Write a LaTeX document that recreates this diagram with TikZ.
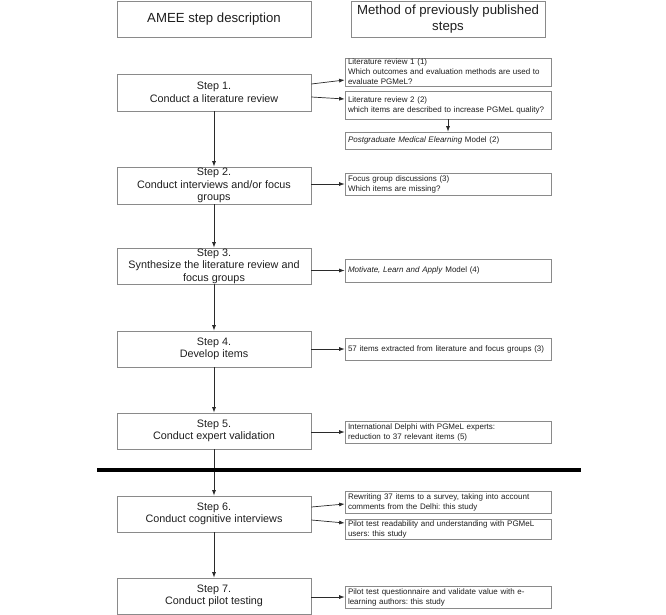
\documentclass[tikz,border=0pt]{standalone}
\usepackage{fontspec}
\setmainfont{Liberation Sans}
\usetikzlibrary{arrows.meta}
\frenchspacing
\definecolor{boxgray}{HTML}{8A8A8A}
\definecolor{linegray}{HTML}{2A2A2A}
\definecolor{txt}{HTML}{1E1E1E}
\tikzset{
  hdr/.style={draw=boxgray, line width=0.8pt, minimum width=194pt, minimum height=36pt, inner sep=0pt, align=center, text=txt, font=\fontsize{13.2}{16}\selectfont},
  stepbox/.style={draw=boxgray, line width=0.8pt, minimum width=194pt, minimum height=37pt, inner sep=0pt, align=center, text=txt, font=\fontsize{10.8}{12.5}\selectfont},
  infobox/.style={draw=boxgray, line width=0.7pt, minimum width=206pt, inner xsep=3pt, inner ysep=0pt, text width=200pt, align=left, text=txt, font=\fontsize{8}{10}\selectfont},
  arr/.style={draw=linegray, line width=0.7pt, -{Latex[length=5.5pt,width=4pt]}},
  sepline/.style={draw=black, line width=4pt},
}
\begin{document}
\begin{tikzpicture}[x=1pt, y=-1pt]
\useasboundingbox (0,0) rectangle (666,615);
% headers
\node[hdr] (h1) at (214,19) {AMEE step description};
\node[hdr] (h2) at (448,19) {Method of previously published\\steps};
% steps
\node[stepbox] (s1) at (214,92.5) {Step 1.\\Conduct a literature review};
\node[stepbox] (s2) at (214,185.5) {Step 2.\\Conduct interviews and/or focus\\groups};
\node[stepbox, minimum height=36pt] (s3) at (214,266) {Step 3.\\Synthesize the literature review and\\focus groups};
\node[stepbox, minimum height=36pt] (s4) at (214,349) {Step 4.\\Develop items};
\node[stepbox, minimum height=36pt] (s5) at (214,431) {Step 5.\\Conduct expert validation};
\node[stepbox, minimum height=36pt] (s6) at (214,514) {Step 6.\\Conduct cognitive interviews};
\node[stepbox, minimum height=36pt] (s7) at (214,596) {Step 7.\\Conduct pilot testing};
% info boxes
\node[infobox, minimum height=28pt] (r1a) at (448,72) {Literature review 1 (1)\\Which outcomes and evaluation methods are used to\\evaluate PGMeL?};
\node[infobox, minimum height=28pt] (r1b) at (448,105) {Literature review 2 (2)\\which items are described to increase PGMeL quality?};
\node[infobox, minimum height=17pt] (r1c) at (448,140.5) {\textit{Postgraduate Medical Elearning} Model (2)};
\node[infobox, minimum height=22pt] (r2) at (448,184) {Focus group discussions (3)\\Which items are missing?};
\node[infobox, minimum height=23pt] (r3) at (448,270.5) {\textit{Motivate, Learn and Apply} Model (4)};
\node[infobox, minimum height=22pt] (r4) at (448,349) {57 items extracted from literature and focus groups (3)};
\node[infobox, minimum height=22pt] (r5) at (448,432) {International Delphi with PGMeL experts:\\reduction to 37 relevant items (5)};
\node[infobox, minimum height=22pt] (r6a) at (448,502) {Rewriting 37 items to a survey, taking into account\\comments from the Delhi: this study};
\node[infobox, minimum height=20pt] (r6b) at (448,529) {Pilot test readability and understanding with PGMeL\\users: this study};
\node[infobox, minimum height=22pt] (r7) at (448,597) {Pilot test questionnaire and validate value with e-\\learning authors: this study};
% separator
\coordinate (sl) at (97,470);
\coordinate (sr) at (581,470);
% vertical arrows
\draw[arr] (s1) -- (s2);
\draw[arr] (s2) -- (s3);
\draw[arr] (s3) -- (s4);
\draw[arr] (s4) -- (s5);
\draw[arr] (s5) -- (s6);
\draw[arr] (s6) -- (s7);
\draw[arr] (r1b) -- (r1c);
% horizontal arrows
\draw[arr] ([yshift=8.5pt]s1.east) -- ([yshift=-8pt]r1a.west);
\draw[arr] ([yshift=-4.5pt]s1.east) -- ([yshift=6pt]r1b.west);
\draw[arr] (s2.east |- r2.west) -- (r2.west);
\draw[arr] (s3.east |- r3.west) -- (r3.west);
\draw[arr] (s4.east |- r4.west) -- (r4.west);
\draw[arr] (s5.east |- r5.west) -- (r5.west);
\draw[arr] ([yshift=7pt]s6.east) -- ([yshift=-2pt]r6a.west);
\draw[arr] ([yshift=-6pt]s6.east) -- ([yshift=6pt]r6b.west);
\draw[arr] (s7.east |- r7.west) -- (r7.west);
\draw[sepline] (sl) -- (sr);
\end{tikzpicture}
\end{document}
